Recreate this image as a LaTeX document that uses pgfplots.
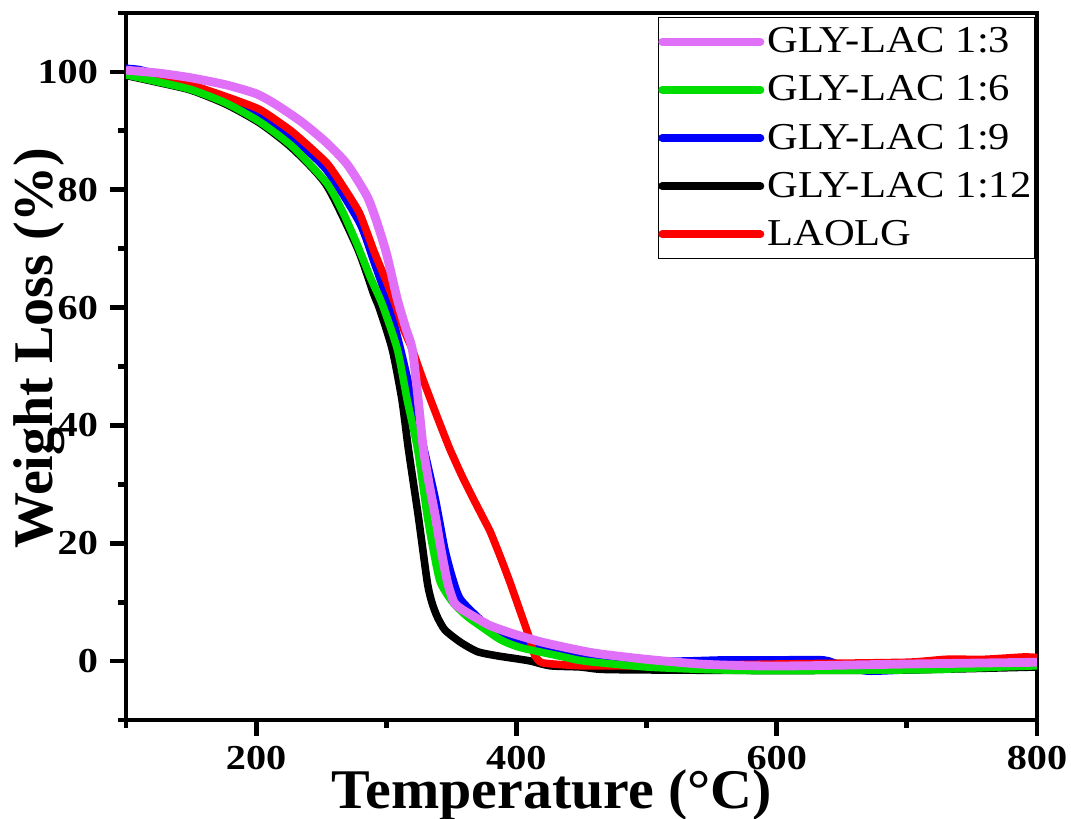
\documentclass[border=0pt]{standalone}
\usepackage{fontspec}
\setmainfont{Liberation Serif}
\newfontfamily\tickfont[FakeStretch=1.15]{Liberation Serif}
\newfontfamily\legfont[FakeStretch=1.12]{Liberation Serif}
\newfontfamily\xlabfont[FakeStretch=1.035]{Liberation Serif}
\usepackage{pgfplots}
\pgfplotsset{compat=1.18}
\definecolor{cpurple}{RGB}{224,112,248}
\definecolor{cgreen}{RGB}{0,221,0}
\definecolor{cblue}{RGB}{0,0,255}
\definecolor{cred}{RGB}{255,0,0}

\pgfplotstableread{
T W
100 100.3
125 99.8
150 99.0
177 97.8
200 96.3
215 94.5
235 91.5
254 88
270 84.3
285 79
292 75
300 69.3
308.5 61.4
315 56.5
320 52.9
324.5 44.4
328.5 36
333 30
337.7 24.6
342 19
347 13.4
352 10
358 8.8
367 7.6
380 6
398 4.6
420 3.2
449 1.8
465 1.2
500 0.3
541 -0.5
580 -0.8
620 -0.8
700 -0.5
800 -0.2
}\purple

\pgfplotstableread{
T W
100 99.5
125 98.3
150 97
177 94.7
203 91.5
228 87.3
254 81.2
266 76.5
278 70.5
288 65
297 60.5
308.5 52.9
316 44.4
324 36
331.5 24.6
336 19
341.5 13.4
351 10
362 7.6
372 6
388 3.6
403 2.3
430 1
449 0.1
465 -0.3
500 -1
541 -1.4
580 -1.6
620 -1.6
700 -1.5
726 -1.4
772 -1.0
800 -0.8
}\green

\pgfplotstableread{
T W
100 100.6
110 100.4
125 99.5
150 97.8
177 95.6
203 92.7
228 88.8
254 83.4
279.5 74.4
291 67.5
302 60.5
311 52.9
320 44.4
329 36
337.7 27.5
345 19
351 14
357 10.5
372 7.1
388 4.2
426 1.8
465 0.5
520 0
560 0.2
600 0.2
636 0.2
650 -0.8
670 -1.7
700 -1.5
800 -0.8
}\blue

\pgfplotstableread{
T W
100 99.4
125 98.2
150 96.9
177 94.5
203 91.3
228 87.0
254 80.8
278 70
290 62.5
295 59.7
304.6 52.9
312 44.4
317 36
324.6 24.6
331.5 13.4
335 10
339 7.6
345 5.3
357 3.2
370 1.6
385 0.9
400 0.4
411 0
426 -0.8
449 -1
465 -1.4
500 -1.5
600 -1.6
700 -1.5
800 -1
}\black

\pgfplotstableread{
T W
100 100
125 99.3
150 97.8
177 95.8
203 93.6
228 89.8
254 84.6
267 80.5
279.5 76
291 69.3
300 64.5
307 60.5
313 56.5
320 52.9
327 48.5
335 43.8
342 39.8
349 35.9
358 31.5
367 27.5
374 24.5
380 21.9
388 17.5
395 13.4
402 9
408.5 4.9
411 3.2
414 1
420 -0.3
450 -0.8
500 -0.8
600 -0.5
700 -0.2
730 0.3
760 0.3
790 0.7
800 0.6
}\red

\begin{document}
\begin{tikzpicture}
\useasboundingbox (0,0) rectangle (535.5pt,409.5pt);
\begin{axis}[
  at={(63pt,49.5pt)}, anchor=south west,
  scale only axis, width=455.5pt, height=353.5pt,
  xmin=100, xmax=800, ymin=-10, ymax=110,
  xtick={200,400,600,800}, minor xtick={100,300,500,700},
  ytick={0,20,40,60,80,100}, minor ytick={-10,10,30,50,70,90,110},
  xtick pos=bottom, ytick pos=left,
  tick align=outside,
  major tick length=8pt, minor tick length=4pt,
  axis line style={line width=2.4pt},
  every tick/.style={line width=2.4pt, black},
  /pgf/number format/assume math mode=true,
  ticklabel style={font=\tickfont\bfseries\fontsize{17.5}{17.5}\selectfont},
  xticklabel style={yshift=-1.5pt},
  yticklabel style={xshift=-2.5pt},
  xlabel={Temperature (°C)},
  ylabel={Weight Loss (\%)},
  label style={font=\bfseries\fontsize{28}{28}\selectfont},
  xlabel style={font=\xlabfont\bfseries\fontsize{28}{28}\selectfont, at={(axis description cs:0.4676,-0.1245)}, anchor=base},
  ylabel style={at={(axis description cs:-0.0812,0.526)}, anchor=base, rotate=0},
  legend style={at={(axis description cs:0.9978,0.9943)}, anchor=north east,
    draw=black, line width=0.6pt, inner xsep=0pt, inner ysep=3pt,
    font=\legfont\fontsize{19}{19}\selectfont,
    nodes={inner xsep=1.5pt},
    row sep=6pt, cells={anchor=west}},
  legend image code/.code={\draw[#1, line width=4pt, line cap=round] (0pt,0pt) -- (49pt,0pt);},
  clip=true,
]
\addplot[cblue, line width=3.8pt, smooth, tension=0.4, forget plot] table {\blue};
\addplot[black, line width=3.8pt, smooth, tension=0.4, forget plot] table {\black};
\addplot[cred, line width=3.8pt, smooth, tension=0.3, forget plot] table {\red};
\addplot[cgreen, line width=3.8pt, smooth, tension=0.4, forget plot] table {\green};
\addplot[cpurple, line width=4.4pt, smooth, tension=0.4, forget plot] table {\purple};
\addlegendimage{cpurple}
\addlegendimage{cgreen}
\addlegendimage{cblue}
\addlegendimage{black}
\addlegendimage{cred}
\legend{GLY-LAC 1:3, GLY-LAC 1:6, GLY-LAC 1:9, GLY-LAC 1:12, LAOLG}
\end{axis}
\end{tikzpicture}
\end{document}
